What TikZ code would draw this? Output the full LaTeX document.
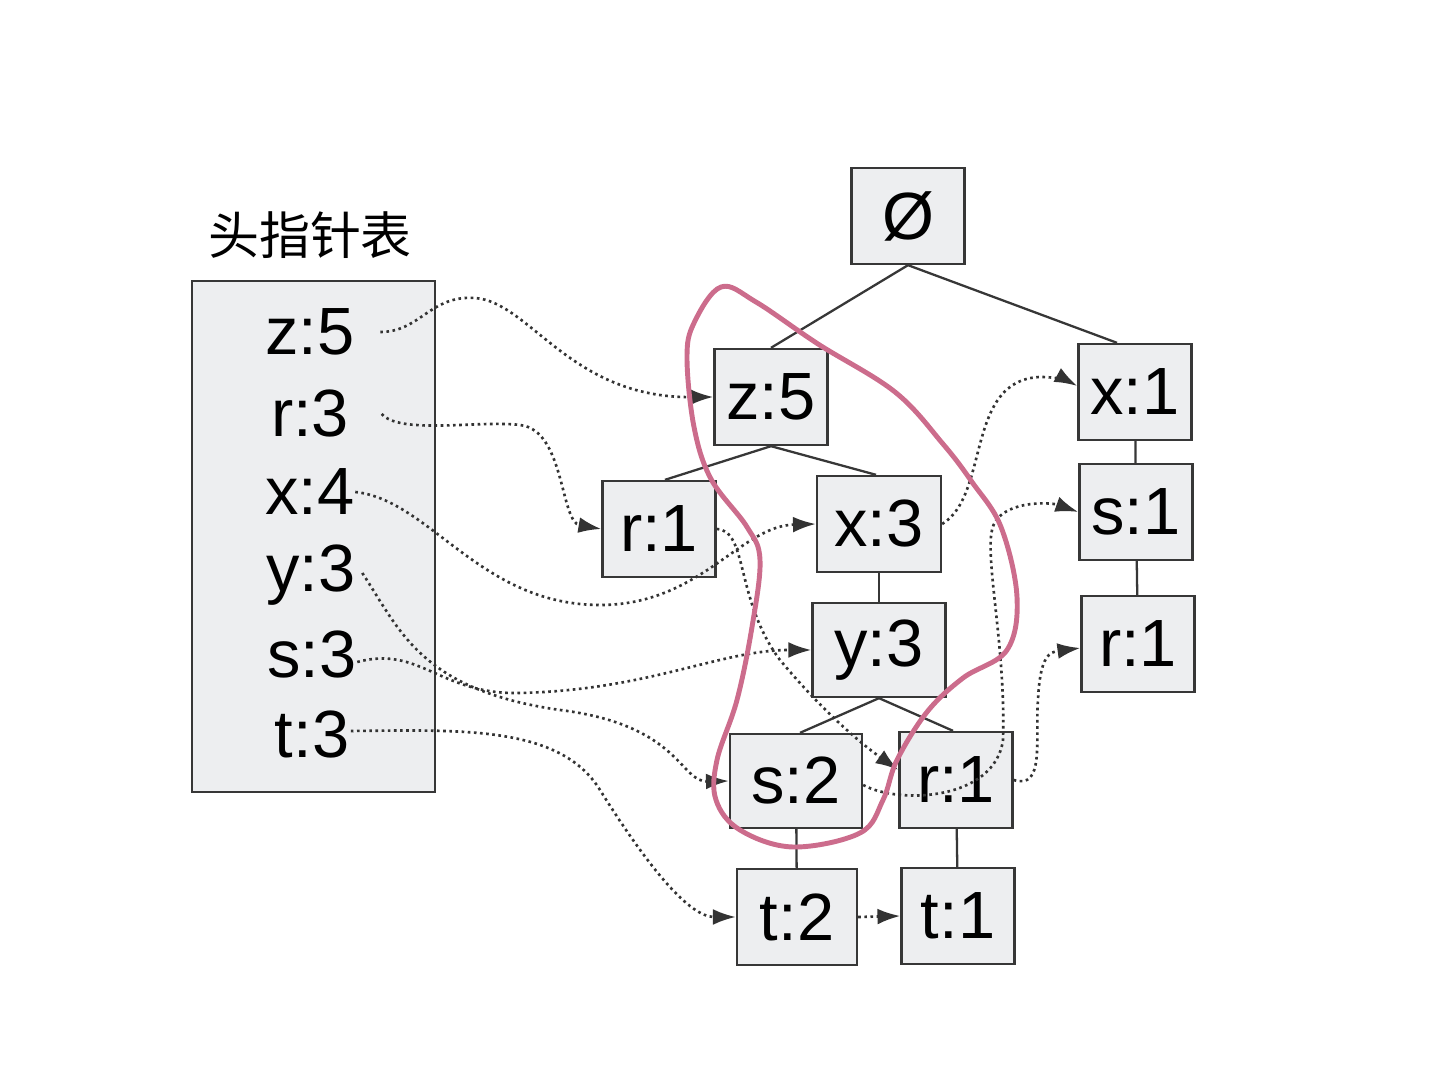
\documentclass[tikz,border=0pt]{standalone}
\usepackage{fontspec}
\setmainfont{Liberation Sans}
\newfontfamily\cjkfont{Noto Sans CJK SC}
\usetikzlibrary{arrows.meta}
\definecolor{boxfill}{RGB}{237,238,240}
\definecolor{boxline}{RGB}{55,55,55}
\definecolor{loopink}{RGB}{204,108,140}
\tikzset{
  item/.style={draw=boxline,line width=0.65pt,fill=boxfill,minimum width=1.13cm,minimum height=0.96cm,inner sep=0pt,font=\fontsize{19}{22}\selectfont},
  entry/.style={inner sep=0pt,font=\fontsize{19}{22}\selectfont},
  edge/.style={draw=boxline,line width=0.65pt},
  link/.style={draw=black!80,line width=0.75pt,densely dotted,-{Latex[length=6.5pt,width=4.5pt]}}
}
\begin{document}
\begin{tikzpicture}[x=0.01cm,y=-0.01cm]
\useasboundingbox (0,0) rectangle (1451,1080);

 % header table
 \node[font=\cjkfont\fontsize{14.5}{17}\selectfont] (htitle) at (310,235) {头指针表};
 \draw[draw=boxline,line width=0.65pt,fill=boxfill] (192,281) rectangle (435,792);
 \node[entry] (hz) at (310,332) {z:5};
 \node[entry] (hr) at (310,414) {r:3};
 \node[entry] (hx) at (310,492) {x:4};
 \node[entry] (hy) at (311,575) {y:3};
 \node[entry] (hs) at (312,655) {s:3};
 \node[entry] (ht) at (312,735) {t:3};

 % tree
 \node[item] (nul) at (908,216) {Ø};
 \node[item] (z5) at (771,397) {z:5};
 \node[item] (r1a) at (659,529) {r:1};
 \node[item,minimum width=1.24cm] (x3) at (879,524) {x:3};
 \node[item,minimum width=1.33cm,minimum height=0.94cm] (y3) at (879,650) {y:3};
 \node[item,minimum width=1.32cm,minimum height=0.94cm] (s2) at (796,781) {s:2};
 \node[item] (r1b) at (956,780) {r:1};
 \node[item,minimum width=1.2cm] (t2) at (797,917) {t:2};
 \node[item] (t1) at (958,916) {t:1};
 \node[item] (x1) at (1135,392) {x:1};
 \node[item] (s1) at (1136,512) {s:1};
 \node[item] (r1c) at (1138,644) {r:1};

 \draw[edge] (nul.south) -- (z5.north);
 \draw[edge] (nul.south) -- ([xshift=-0.18cm]x1.north);
 \draw[edge] (z5.south) -- ([xshift=0.06cm]r1a.north);
 \draw[edge] (z5.south) -- ([xshift=-0.03cm]x3.north);
 \draw[edge] (x3) -- (y3);
 \draw[edge] (y3.south) -- ([xshift=0.04cm]s2.north);
 \draw[edge] (y3.south) -- ([xshift=-0.03cm]r1b.north);
 \draw[edge] (s2) -- (t2);
 \draw[edge] (r1b) -- (t1);
 \draw[edge] (x1) -- (s1);
 \draw[edge] (s1) -- (r1c);

 % node links
 \draw[link] ([xshift=0.25cm]hz.east) .. controls (420,332) and (430,295) .. (475,298)
   .. controls (530,302) and (570,398) .. (z5.west);
 \draw[link] ([xshift=0.32cm]hr.east) .. controls (400,435) and (480,420) .. (520,425)
   .. controls (565,430) and (560,522) .. (r1a.west);
 \draw[link] (hx.east) .. controls (430,500) and (480,605) .. (600,605)
   .. controls (700,605) and (740,526) .. (x3.west);
 \draw[link] ([xshift=0.06cm,yshift=0.02cm]hy.east) .. controls (400,630) and (420,690) .. (560,710)
   .. controls (680,725) and (680,782) .. (s2.west);
 \draw[link] ([yshift=-0.07cm]hs.east) .. controls (420,645) and (440,695) .. (520,693)
   .. controls (650,690) and (720,650) .. (y3.west);
 \draw[link] ([xshift=0.01cm,yshift=0.04cm]ht.east) .. controls (460,730) and (560,725) .. (600,790)
   .. controls (650,870) and (690,917) .. (t2.west);
 \draw[link] (r1a.east) .. controls (748,530) and (735,600) .. (780,660)
   .. controls (830,720) and (870,750) .. ([yshift=0.1cm]r1b.west);
 \draw[link] (x3.east) .. controls (990,495) and (965,380) .. (1040,377)
   .. controls (1060,377) and (1070,382) .. ([yshift=0.06cm]x1.west);
 \draw[link] ([yshift=-0.04cm]s2.east) .. controls (900,805) and (995,800) .. (1003,740)
   .. controls (1006,650) and (985,560) .. (992,530)
   .. controls (998,500) and (1050,502) .. (s1.west);
 \draw[link] (r1b.east) .. controls (1045,790) and (1035,740) .. (1038,700)
   .. controls (1040,655) and (1050,652) .. ([yshift=-0.04cm]r1c.west);
 \draw[link] (t2.east) -- (t1.west);

 % pink loop
 \draw[loopink,line width=1.4pt] plot[smooth cycle,tension=0.6] coordinates {
   (721,287) (756,302) (818,344) (895,392) (943,444) (972,482) (1001,527)
   (1017,597) (1007,650) (963,678) (927,712) (897,760) (883,800) (860,833)
   (793,847) (740,830) (716,800) (717,760) (737,700) (752,627) (760,560)
   (747,527) (711,479) (694,427) (687,358) (694,323)};

\end{tikzpicture}
\end{document}
